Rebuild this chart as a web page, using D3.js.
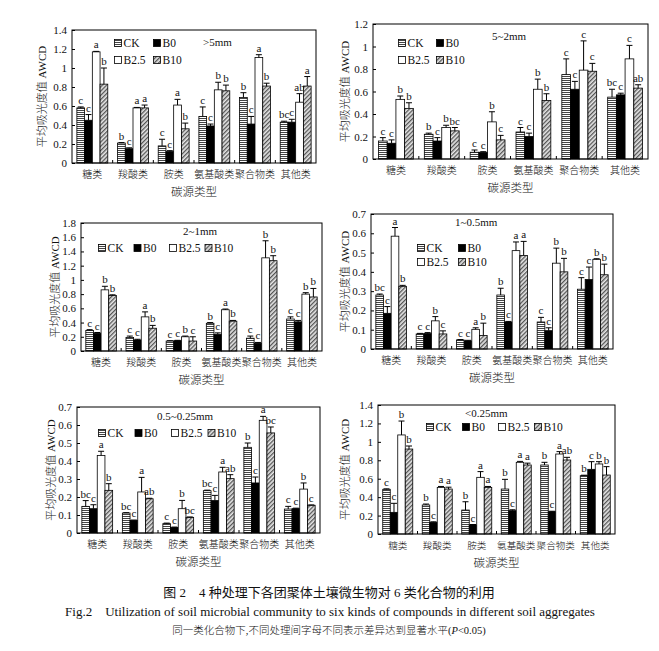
<!DOCTYPE html>
<html><head><meta charset="utf-8">
<script src="https://cdn.jsdelivr.net/npm/d3@7"></script>
<style>
body{margin:0;background:#fff;}
text{font-family:"Liberation Serif","Noto Sans CJK SC",serif;fill:#111;}
.cjk{font-weight:300;}
</style></head>
<body><svg id="c" width="659" height="651"></svg>
<script>
const categories = ["糖类","羧酸类","胺类","氨基酸类","聚合物类","其他类"];
const series = ["CK","B0","B2.5","B10"];

// values per category: [CK, B0, B2.5, B10]
const p1Values = [[0.58,0.45,1.17,0.83],[0.21,0.15,0.58,0.58],[0.18,0.12,0.61,0.36],[0.49,0.39,0.77,0.76],[0.69,0.41,1.11,0.81],[0.43,0.43,0.64,0.81]];
const p1Errors = [[0.01,0.06,0.005,0.17],[0.005,0.01,0.005,0.03],[0.07,0.01,0.06,0.06],[0.10,0.02,0.08,0.06],[0.05,0.08,0.03,0.03],[0.01,0.03,0.09,0.10]];
const p1Letters = [["c","c","a","b"],["b","c","a","a"],["c","c","a","b"],["c","c","b","b"],["b","c","a","b"],["bc","c","ab","a"]];

const p2Values = [[0.16,0.14,0.53,0.45],[0.22,0.16,0.28,0.25],[0.06,0.06,0.33,0.17],[0.24,0.20,0.62,0.52],[0.75,0.62,0.79,0.78],[0.55,0.57,0.89,0.63]];
const p2Errors = [[0.03,0.03,0.03,0.05],[0.01,0.03,0.02,0.03],[0.02,0.005,0.09,0.04],[0.04,0.03,0.09,0.06],[0.14,0.07,0.26,0.07],[0.07,0.015,0.12,0.03]];
const p2Letters = [["c","c","b","b"],["b","c","b","bc"],["c","c","b","c"],["c","c","b","b"],["c","c","c","c"],["bc","c","c","ab"]];

const p3Values = [[0.29,0.25,0.86,0.78],[0.19,0.155,0.48,0.32],[0.14,0.145,0.20,0.14],[0.39,0.235,0.58,0.42],[0.18,0.11,1.31,1.27],[0.45,0.41,0.80,0.76]];
const p3Errors = [[0.01,0.01,0.05,0.01],[0.02,0.01,0.07,0.04],[0.005,0.005,0.01,0.06],[0.01,0.02,0.01,0.01],[0.03,0.01,0.24,0.07],[0.03,0.02,0.02,0.12]];
const p3Letters = [["c","c","b","b"],["c","c","a","b"],["c","c","b","c"],["b","c","a","b"],["c","c","b","b"],["c","c","b","b"]];

const p4Values = [[0.28,0.185,0.585,0.325],[0.078,0.08,0.146,0.078],[0.047,0.042,0.102,0.07],[0.28,0.14,0.51,0.485],[0.14,0.095,0.445,0.40],[0.31,0.36,0.465,0.385]];
const p4Errors = [[0.005,0.035,0.045,0.005],[0.003,0.005,0.022,0.016],[0.002,0.003,0.008,0.064],[0.035,0.003,0.045,0.073],[0.024,0.015,0.078,0.07],[0.06,0.065,0.003,0.055]];
const p4Letters = [["bc","c","a","b"],["c","c","b","c"],["c","c","a","b"],["b","c","a","a"],["c","c","b","b"],["c","c","b","b"]];

const p5Values = [[0.148,0.135,0.431,0.237],[0.111,0.07,0.228,0.19],[0.052,0.031,0.135,0.087],[0.235,0.18,0.339,0.302],[0.476,0.278,0.626,0.556],[0.133,0.135,0.244,0.154]];
const p5Errors = [[0.032,0.022,0.023,0.037],[0.002,0.002,0.081,0.003],[0.003,0.002,0.046,0.002],[0.003,0.029,0.026,0.022],[0.024,0.033,0.022,0.033],[0.015,0.003,0.034,0.002]];
const p5Letters = [["bc","c","a","b"],["bc","c","a","ab"],["c","c","b","bc"],["bc","c","a","ab"],["b","c","a","bc"],["c","c","b","c"]];

const p6Values = [[0.485,0.235,1.075,0.922],[0.315,0.127,0.506,0.488],[0.26,0.098,0.615,0.506],[0.488,0.253,0.778,0.749],[0.749,0.242,0.868,0.803],[0.633,0.702,0.76,0.64]];
const p6Errors = [[0.005,0.098,0.151,0.033],[0.01,0.005,0.01,0.02],[0.09,0.005,0.062,0.01],[0.105,0.01,0.01,0.02],[0.029,0.005,0.026,0.029],[0.005,0.083,0.025,0.091]];
const p6Letters = [["c","c","b","b"],["b","c","a","a"],["b","c","a","a"],["b","c","a","a"],["b","c","a","ab"],["b","c","b","b"]];

const sizeLabels = [">5mm","5~2mm","2~1mm","1~0.5mm","0.5~0.25mm","<0.25mm"];
const yMaxes = [1.4,1.2,1.8,0.7,0.7,1.4];
const ySteps = [0.2,0.2,0.2,0.1,0.1,0.2];

const yTitle = "平均吸光度值 AWCD";
const xTitle = "碳源类型";
const caption1 = "图 2　4 种处理下各团聚体土壤微生物对 6 类化合物的利用";
const caption2 = "Fig.2　Utilization of soil microbial community to six kinds of compounds in different soil aggregates";

// layout
const panels = [
  {values:p1Values, errors:p1Errors, letters:p1Letters, box:[72,316,30,163], ytx:42, label:[203,42], leg:{x:118,y:43,dx:39,dy:17,cols:2}},
  {values:p2Values, errors:p2Errors, letters:p2Letters, box:[373,648,24,159], ytx:345, label:[492,36], leg:{x:402,y:43,dx:38,dy:17,cols:2}},
  {values:p3Values, errors:p3Errors, letters:p3Letters, box:[81,322,223,351], ytx:55, label:[183,231], leg:{x:102,y:248,dx:35.5,dy:0,cols:4}},
  {values:p4Values, errors:p4Errors, letters:p4Letters, box:[371,613,214,349], ytx:345, label:[455,222], leg:{x:421,y:248,dx:41,dy:14,cols:2}},
  {values:p5Values, errors:p5Errors, letters:p5Letters, box:[77,320,407,533], ytx:51, label:[157,416], leg:{x:102,y:433,dx:36.5,dy:0,cols:4}},
  {values:p6Values, errors:p6Errors, letters:p6Letters, box:[378,615,405,534], ytx:345, label:[465,413], leg:{x:430,y:427,dx:36,dy:0,cols:4}}
];

const svg = d3.select("#c");
const defs = svg.append("defs");
// CK horizontal stripes
const pH = defs.append("pattern").attr("id","pCK").attr("patternUnits","userSpaceOnUse").attr("width",4).attr("height",2);
pH.append("rect").attr("width",4).attr("height",2).attr("fill","#fff");
pH.append("rect").attr("width",4).attr("height",1).attr("fill","#444");
// B10 diagonal hatch
const pD = defs.append("pattern").attr("id","pB10").attr("patternUnits","userSpaceOnUse").attr("width",3).attr("height",3).attr("patternTransform","rotate(45)");
pD.append("rect").attr("width",3).attr("height",3).attr("fill","#e6e6e6");
pD.append("rect").attr("width",1.3).attr("height",3).attr("fill","#555");

const fills = {"CK":"url(#pCK)","B0":"#000","B2.5":"#fff","B10":"url(#pB10)"};
const fmt = d => String(+d.toFixed(1));

panels.forEach((p,pi) => {
  const [L,R,T,B] = p.box;
  const g = svg.append("g");
  const x0 = d3.scaleBand().domain(categories).range([L,R]).padding(0);
  const bw = x0.bandwidth();
  const x1 = d3.scaleBand().domain(series).range([bw*0.12, bw*0.88]).padding(0);
  const y = d3.scaleLinear().domain([0,yMaxes[pi]]).range([B,T]);
  const ticks = d3.range(0, Math.round(yMaxes[pi]/ySteps[pi])+1).map(i => +(i*ySteps[pi]).toFixed(2));

  // y axis
  const ya = g.append("g").attr("transform",`translate(${L},0)`)
    .call(d3.axisLeft(y).tickValues(ticks).tickFormat(fmt).tickSizeInner(-3).tickSizeOuter(0).tickPadding(5));
  ya.select(".domain").remove();
  ya.selectAll("line").attr("stroke","#000");
  ya.selectAll("text").attr("font-size","11px").attr("fill","#111").style("font-family",'"Liberation Serif",serif');

  // x axis
  const xa = g.append("g").attr("transform",`translate(0,${B})`)
    .call(d3.axisBottom(x0).tickSize(0).tickPadding(8));
  xa.select(".domain").remove();
  xa.selectAll("text").attr("font-size", bw < 40 ? "9.6px" : "10px").attr("fill","#111").attr("class","cjk");
  // boundary ticks (inward)
  g.selectAll(".bt").data(categories.slice(1)).enter().append("line")
    .attr("x1",d=>x0(d)).attr("x2",d=>x0(d)).attr("y1",B).attr("y2",B-3).attr("stroke","#000");

  // bars
  categories.forEach((c,ci) => {
    series.forEach((s,si) => {
      const v = p.values[ci][si], e = p.errors[ci][si];
      const bx = x0(c)+x1(s), w = x1.bandwidth();
      g.append("rect").attr("x",bx).attr("y",y(v)).attr("width",w).attr("height",B-y(v))
        .attr("fill",fills[s]).attr("stroke","#000").attr("stroke-width",0.8);
      const cx = bx + w/2, yt = y(v+e);
      g.append("line").attr("x1",cx).attr("x2",cx).attr("y1",y(v)).attr("y2",yt).attr("stroke","#000").attr("stroke-width",1);
      g.append("line").attr("x1",cx-3).attr("x2",cx+3).attr("y1",yt).attr("y2",yt).attr("stroke","#000").attr("stroke-width",1);
      g.append("text").attr("x",cx).attr("y",yt-3).attr("text-anchor","middle")
        .attr("font-size","11px").text(p.letters[ci][si]);
    });
  });

  // frame
  g.append("rect").attr("x",L).attr("y",T).attr("width",R-L).attr("height",B-T)
    .attr("fill","none").attr("stroke","#000").attr("stroke-width",1);

  // size label
  g.append("text").attr("x",p.label[0]).attr("y",p.label[1]+4).attr("font-size","11px").text(sizeLabels[pi]);

  // legend
  series.forEach((s,si) => {
    const col = si % p.leg.cols, row = Math.floor(si / p.leg.cols);
    const lx = p.leg.x + col*p.leg.dx, ly = p.leg.y + row*p.leg.dy;
    g.append("rect").attr("x",lx-3.5).attr("y",ly-3.5).attr("width",7).attr("height",7)
      .attr("fill",fills[s]).attr("stroke","#000").attr("stroke-width",0.8);
    g.append("text").attr("x",lx+5.5).attr("y",ly+4).attr("font-size","11.5px").text(s);
  });

  // axis titles
  g.append("text").attr("x",(L+R)/2).attr("y",B+33).attr("text-anchor","middle").attr("font-size","11.5px").attr("class","cjk").text(xTitle);
  g.append("text").attr("transform",`translate(${p.ytx},${(T+B)/2}) rotate(-90)`).attr("text-anchor","middle")
    .attr("dominant-baseline","central").attr("font-size","11px").attr("class","cjk").text(yTitle);
});

// captions
svg.append("text").attr("x",329).attr("y",597).attr("text-anchor","middle").attr("font-size","13px").text(caption1);
svg.append("text").attr("x",330).attr("y",616).attr("text-anchor","middle").attr("font-size","13px").text(caption2);
const c3 = svg.append("text").attr("x",329).attr("y",634).attr("text-anchor","middle").attr("font-size","10.5px").attr("class","cjk");
c3.append("tspan").text("同一类化合物下,不同处理间字母不同表示差异达到显著水平(");
c3.append("tspan").attr("font-style","italic").text("P");
c3.append("tspan").text("<0.05)");
</script></body></html>
